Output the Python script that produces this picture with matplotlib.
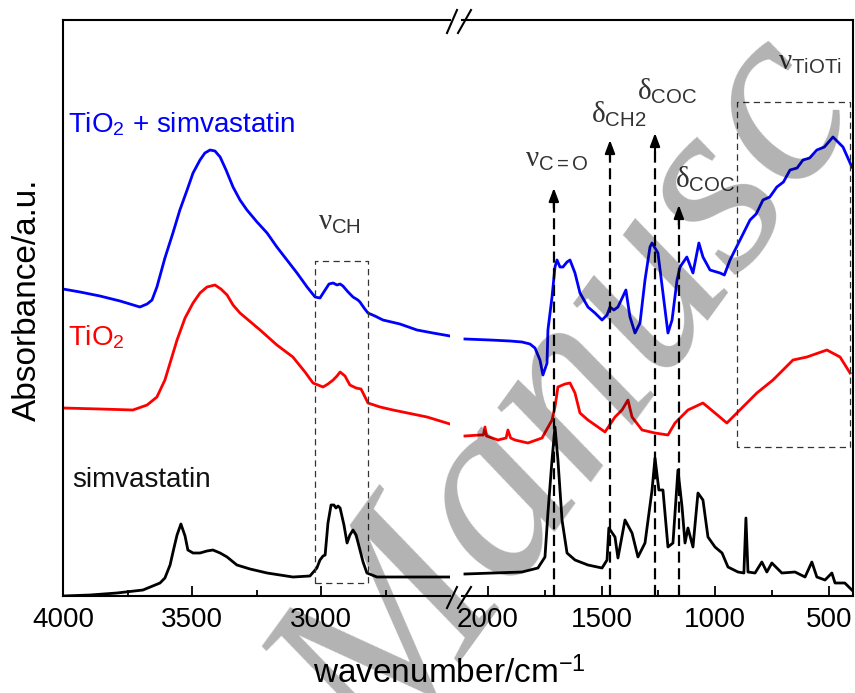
import matplotlib
matplotlib.use('Agg')
import matplotlib.pyplot as plt
from matplotlib.lines import Line2D

plt.rcParams['font.family'] = ['Liberation Sans', 'DejaVu Sans']
plt.rcParams['mathtext.fontset'] = 'custom'
plt.rcParams['mathtext.rm'] = 'Liberation Sans'
plt.rcParams['mathtext.it'] = 'Liberation Serif'
plt.rcParams['mathtext.bf'] = 'Liberation Sans:bold'

# ---- spectra (wavenumber / cm-1, absorbance a.u.) ----
# high wavenumber part (4000 - 2500)
wn_hi_blue = [4000, 3934, 3857, 3779, 3702, 3674, 3655, 3636, 3605, 3574, 3547, 3519, 3496,
              3469, 3450, 3430, 3411, 3391, 3368, 3341, 3314, 3287, 3248, 3209, 3171, 3132,
              3093, 3054, 3023, 3004, 2984, 2969, 2953, 2938, 2926, 2915, 2895, 2876, 2857,
              2849, 2833, 2818, 2791, 2760, 2694, 2628, 2566, 2500]
a_hi_blue = [3.07, 3.04, 3.00, 2.95, 2.89, 2.92, 2.96, 3.09, 3.38, 3.63, 3.86, 4.06, 4.23,
             4.36, 4.43, 4.46, 4.45, 4.39, 4.26, 4.09, 3.96, 3.86, 3.74, 3.63, 3.49, 3.36,
             3.23, 3.09, 2.99, 2.98, 3.06, 3.12, 3.13, 3.11, 3.12, 3.10, 3.04, 2.99, 2.96,
             2.94, 2.88, 2.83, 2.80, 2.76, 2.72, 2.66, 2.63, 2.60]

wn_hi_red = [4000, 3857, 3729, 3674, 3636, 3605, 3558, 3527, 3496, 3469, 3442, 3411, 3388,
             3364, 3341, 3314, 3236, 3171, 3109, 3062, 3031, 2992, 2973, 2953, 2938, 2926,
             2907, 2888, 2864, 2845, 2837, 2818, 2771, 2721, 2589, 2500]
a_hi_red = [1.88, 1.87, 1.86, 1.91, 1.99, 2.16, 2.56, 2.78, 2.93, 3.03, 3.09, 3.11, 3.07,
            3.01, 2.91, 2.83, 2.66, 2.51, 2.39, 2.24, 2.13, 2.09, 2.12, 2.16, 2.20, 2.24,
            2.20, 2.11, 2.08, 2.07, 2.03, 1.93, 1.89, 1.86, 1.79, 1.72]

wn_hi_black = [4000, 3895, 3791, 3690, 3624, 3605, 3585, 3570, 3558, 3543, 3527, 3516, 3496,
               3469, 3442, 3419, 3391, 3364, 3326, 3275, 3209, 3109, 3043, 3016, 3004, 2992,
               2984, 2973, 2961, 2950, 2942, 2934, 2926, 2911, 2899, 2888, 2876, 2864, 2849,
               2837, 2822, 2783, 2500]
a_hi_black = [0.00, 0.01, 0.03, 0.06, 0.13, 0.18, 0.31, 0.48, 0.61, 0.72, 0.60, 0.46, 0.43,
              0.43, 0.45, 0.46, 0.43, 0.39, 0.31, 0.27, 0.23, 0.19, 0.20, 0.28, 0.36, 0.40,
              0.41, 0.73, 0.91, 0.91, 0.88, 0.90, 0.88, 0.71, 0.53, 0.61, 0.66, 0.61, 0.46,
              0.34, 0.23, 0.19, 0.19]

# low wavenumber part (2100 - 400)
wn_lo_blue = [2101, 1991, 1903, 1850, 1815, 1793, 1771, 1758, 1740, 1736, 1718, 1705, 1696,
              1683, 1670, 1652, 1639, 1617, 1595, 1560, 1529, 1498, 1476, 1463, 1446, 1428,
              1393, 1375, 1353, 1331, 1309, 1287, 1278, 1252, 1230, 1208, 1190, 1168, 1155,
              1125, 1098, 1072, 1054, 1023, 979, 960, 935, 891, 847, 820, 790, 760, 729, 700,
              671, 640, 614, 585, 553, 520, 482, 438, 399]
a_lo_blue = [2.57, 2.56, 2.55, 2.54, 2.52, 2.48, 2.36, 2.21, 2.33, 2.66, 2.99, 3.29, 3.36,
             3.29, 3.29, 3.34, 3.36, 3.23, 3.03, 2.89, 2.83, 2.76, 2.81, 2.89, 2.86, 2.89,
             3.06, 2.79, 2.63, 2.73, 3.16, 3.49, 3.53, 3.43, 3.03, 2.63, 2.76, 3.16, 3.29,
             3.39, 3.23, 3.53, 3.39, 3.26, 3.23, 3.21, 3.36, 3.56, 3.76, 3.82, 3.96, 3.99, 4.09,
             4.14, 4.26, 4.28, 4.36, 4.38, 4.46, 4.49, 4.59, 4.49, 4.29]

wn_lo_red = [2101, 2035, 2020, 2013, 2006, 1956, 1920, 1912, 1900, 1881, 1824, 1762, 1718,
             1705, 1692, 1661, 1639, 1617, 1595, 1560, 1516, 1485, 1441, 1410, 1384, 1366,
             1322, 1265, 1208, 1177, 1120, 1054, 1001, 949, 905, 817, 746, 658, 597, 509,
             451, 407]
a_lo_red = [1.60, 1.61, 1.61, 1.69, 1.60, 1.56, 1.58, 1.66, 1.58, 1.56, 1.53, 1.58, 1.76,
            1.89, 2.09, 2.12, 2.13, 2.03, 1.83, 1.76, 1.69, 1.64, 1.79, 1.86, 1.96, 1.79,
            1.66, 1.63, 1.61, 1.73, 1.86, 1.93, 1.83, 1.73, 1.83, 2.03, 2.16, 2.36, 2.39, 2.46,
            2.39, 2.23]

wn_lo_black = [2101, 1850, 1780, 1749, 1736, 1718, 1705, 1692, 1674, 1652, 1617, 1560, 1498,
               1476, 1468, 1441, 1428, 1397, 1366, 1340, 1309, 1278, 1265, 1248, 1230, 1208,
               1186, 1164, 1146, 1133, 1120, 1098, 1076, 1054, 1032, 1001, 970, 944, 900, 874,
               865, 856, 825, 795, 773, 751, 707, 649, 605, 575, 553, 517, 487, 473, 430, 399]
a_lo_black = [0.22, 0.24, 0.28, 0.39, 0.83, 1.36, 1.69, 1.36, 0.76, 0.43, 0.36, 0.31, 0.28,
              0.36, 0.68, 0.59, 0.38, 0.76, 0.63, 0.39, 0.53, 1.06, 1.38, 1.06, 1.06, 0.49,
              0.53, 1.26, 0.89, 0.53, 0.68, 0.49, 1.03, 0.96, 0.59, 0.49, 0.43, 0.29, 0.24, 0.23,
              0.78, 0.24, 0.23, 0.34, 0.24, 0.33, 0.23, 0.24, 0.19, 0.34, 0.19, 0.16, 0.23, 0.13,
              0.13, 0.06]

# band assignments: position and arrow tip height
arrow_wn = [1710, 1463, 1265, 1160]
arrow_top = [4.08, 4.56, 4.63, 3.91]

W, H = 855, 693
fig = plt.figure(figsize=(W / 100, H / 100), dpi=100)
axL = fig.add_axes([63 / W, 1 - 596 / H, (450 - 63) / W, 576 / H])
axR = fig.add_axes([462 / W, 1 - 596 / H, (853 - 462) / W, 576 / H])

lw = 2.0
axL.plot(wn_hi_blue, a_hi_blue, color='#0000ff', lw=lw)
axL.plot(wn_hi_red, a_hi_red, color='#ff0000', lw=lw)
axL.plot(wn_hi_black, a_hi_black, color='black', lw=lw)
axR.plot(wn_lo_blue, a_lo_blue, color='#0000ff', lw=lw)
axR.plot(wn_lo_red, a_lo_red, color='#ff0000', lw=lw)
axR.plot(wn_lo_black, a_lo_black, color='black', lw=lw)

axL.set_xlim(4000, 2500)
axR.set_xlim(2114, 394)
for ax in (axL, axR):
    ax.set_ylim(0, 5.76)
    ax.set_yticks([])
    ax.tick_params(axis='x', which='major', direction='in', length=7.5, width=1.3,
                   labelsize=20, pad=8)
    ax.tick_params(axis='x', which='minor', direction='in', length=4, width=1.3)
    for s in ax.spines.values():
        s.set_linewidth(1.5)
axL.spines['right'].set_visible(False)
axR.spines['left'].set_visible(False)
axL.set_xticks([4000, 3500, 3000])
axL.set_xticks([3750, 3250, 2750], minor=True)
axR.set_xticks([2000, 1500, 1000, 500])
axR.set_xticks([1750, 1250, 750], minor=True)

# dashed boxes
box_kw = dict(color='#333333', lw=0.9, ls=(0, (5, 3.5)))
axL.plot([3023, 3023, 2818, 2818, 3023], [0.13, 3.35, 3.35, 0.13, 0.13], **box_kw)
axR.plot([905, 905, 407, 407, 905], [1.49, 4.94, 4.94, 1.49, 1.49], **box_kw)

# dashed arrows
for x, yt in zip(arrow_wn, arrow_top):
    axR.plot([x, x], [0, yt - 0.12], color='black', lw=1.6, ls=(0, (5, 2.5)))
    axR.annotate('', xy=(x, yt), xytext=(x, yt - 0.2),
                 arrowprops=dict(arrowstyle='-|>,head_length=0.8,head_width=0.3',
                                 color='black', lw=1.5, shrinkA=0, shrinkB=0))

# sample labels
axL.text(3981, 4.64, r'TiO$_\mathrm{2}$ + simvastatin', color='#0000ff', fontsize=20,
         va='baseline')
axL.text(3981, 2.51, r'TiO$_\mathrm{2}$', color='#ff0000', fontsize=20, va='baseline')
axL.text(3965, 1.09, 'simvastatin', color='#111111', fontsize=20, va='baseline')

# band labels
band_kw = dict(color='#333333', fontsize=21, va='baseline')
axL.text(3012, 3.66, r'$\nu_{\mathrm{CH}}$', **band_kw)
axR.text(1837, 4.29, r'$\nu_{\mathrm{C=O}}$', **band_kw)
axR.text(1547, 4.73, r'$\delta_{\mathrm{CH2}}$', **band_kw)
axR.text(1344, 4.96, r'$\delta_{\mathrm{COC}}$', **band_kw)
axR.text(1177, 4.08, r'$\delta_{\mathrm{COC}}$', **band_kw)
axR.text(724, 5.26, r'$\nu_{\mathrm{TiOTi}}$', **band_kw)

# axis break marks
for y0, y1 in [(33, 10), (608, 587)]:
    for x0, x1 in [(447, 457), (458, 471)]:
        fig.add_artist(Line2D([x0 / W, x1 / W], [1 - y0 / H, 1 - y1 / H],
                              color='black', lw=1.5))

fig.text(27 / W, 1 - 300 / H, 'Absorbance/a.u.', rotation=90, fontsize=24,
         ha='center', va='center')
fig.text(449 / W, 1 - 683 / H, r'wavenumber/cm$^{\mathrm{-1}}$', fontsize=24,
         ha='center', va='baseline')

# watermark of the source page
fig.text(385 / W, 1 - 770 / H, 'Manusc', fontsize=186, family='Liberation Serif',
         style='italic', color='black', alpha=0.3, rotation=54, rotation_mode='anchor',
         ha='left', va='baseline', zorder=10)

plt.savefig('out.png', dpi=100)
